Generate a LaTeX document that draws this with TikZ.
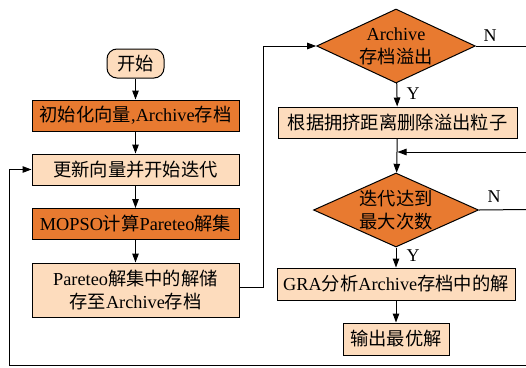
\documentclass[tikz,border=0pt]{standalone}
\usepackage{fontspec}
\setmainfont{Liberation Serif}
\newfontfamily\cjk{Noto Sans CJK SC}
\newcommand\zh[1]{{\cjk #1}}
\usetikzlibrary{shapes.geometric,arrows.meta}
\definecolor{darkor}{HTML}{E87A30}
\definecolor{lightor}{HTML}{FDDCBD}
\tikzset{
  base/.style={draw=black, line width=1pt, font=\fontsize{18.3}{23}\selectfont, inner sep=0pt, align=center},
  darkbox/.style={base, fill=darkor, minimum height=31pt},
  lightbox/.style={base, fill=lightor, minimum height=31pt},
  startbox/.style={base, fill=lightor, rounded corners=10pt, minimum width=57pt, minimum height=29pt},
  decision/.style={base, fill=darkor, diamond, aspect=2.3, minimum height=74pt},
  lbl/.style={font=\fontsize{18}{20}\selectfont, inner sep=0pt},
  conn/.style={line width=1pt, draw=black},
  arr/.style={conn, -{Triangle[length=9pt,width=6.5pt]}}
}
\begin{document}
\begin{tikzpicture}[x=1pt,y=-1pt]
\useasboundingbox (0,0) rectangle (526,367);
\fill[white] (0,0) rectangle (526,367);
% left column
\node[startbox] (start) at (135.5,63.5) {\zh{开始}};
\node[darkbox, minimum width=207pt] (init) at (135.5,115.5) {\zh{初始化向量},Archive\zh{存档}};
\node[lightbox, minimum width=207pt] (upd) at (135.5,169.5) {\zh{更新向量并开始迭代}};
\node[darkbox, minimum width=207pt] (mopso) at (135.5,224) {MOPSO\zh{计算}Pareteo\zh{解集}};
\node[lightbox, minimum width=207pt, minimum height=54pt] (store) at (135.5,290) {Pareteo\zh{解集中的解储}\\\zh{存至}Archive\zh{存档}};
% right column
\node[decision, minimum width=155pt] (d1) at (396,46) {Archive\\\zh{存档溢出}};
\node[lightbox, minimum width=239pt] (crowd) at (397.5,122.5) {\zh{根据拥挤距离删除溢出粒子}};
\node[decision, minimum width=162pt] (d2) at (396,210) {\zh{迭代达到}\\\zh{最大次数}};
\node[lightbox, minimum width=238pt, minimum height=32pt] (gra) at (396,284) {GRA\zh{分析}Archive\zh{存档中的解}};
\node[lightbox, minimum width=106pt, minimum height=32pt] (out) at (396,339) {\zh{输出最优解}};
% labels
\node[lbl] (n1) at (490,36) {N};
\node[lbl] (n2) at (494,197) {N};
\node[lbl] (y1) at (413,94) {Y};
\node[lbl] (y2) at (413,256) {Y};
% coordinates
\coordinate (r1) at (526,46);
\coordinate (r2) at (526,152);
\coordinate (r3) at (526,209.5);
\coordinate (r4) at (526,365);
\coordinate (bl) at (9,365);
\coordinate (sv) at (263,287);
% connectors
\draw[arr] (start) -- (init);
\draw[arr] (init) -- (upd);
\draw[arr] (upd) -- (mopso);
\draw[arr] (mopso) -- (store);
\draw[arr] (store.east |- sv) -- (sv) |- (d1.west);
\draw[arr] (d1) -- (crowd);
\draw[conn] (d1.east) -- (r1);
\draw[arr] (r2) -- (crowd.south |- r2);
\draw[arr] (crowd) -- (d2);
\draw[conn] (d2.east) -- (r3);
\draw[arr] (d2) -- (gra);
\draw[arr] (gra) -- (out);
\draw[arr] (r4) -- (bl) |- (upd.west);
\end{tikzpicture}
\end{document}
